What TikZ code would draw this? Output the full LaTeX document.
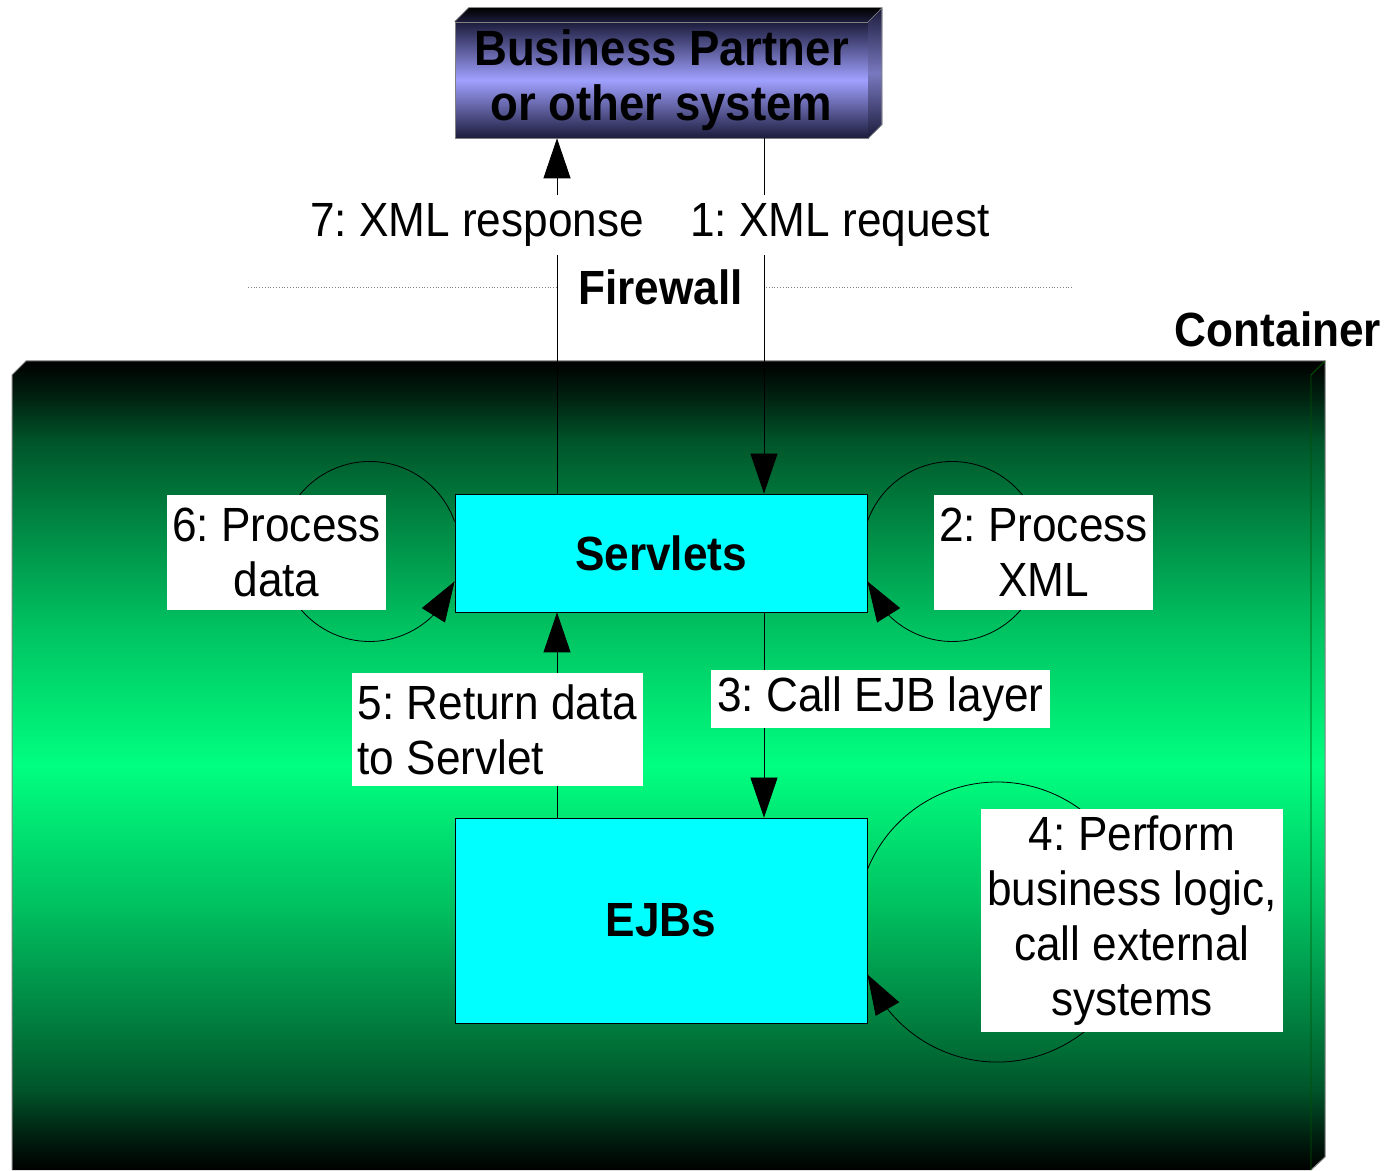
\documentclass[tikz,border=0pt]{standalone}
\usepackage{fontspec}
\setmainfont{Liberation Sans}[FakeStretch=0.92]
\usetikzlibrary{arrows.meta,bending,calc}
\definecolor{cgreen}{RGB}{0,255,128}
\definecolor{gA}{RGB}{0,30,15}
\definecolor{gB}{RGB}{0,85,42}
\definecolor{gC}{RGB}{0,125,62}
\definecolor{gD}{RGB}{0,190,95}
\definecolor{bpmid}{RGB}{160,160,255}
\definecolor{bpdark}{RGB}{28,28,60}
\definecolor{boxcyan}{RGB}{0,255,255}
\pgfdeclareverticalshading{contshade}{100bp}{color(0bp)=(black); color(25bp)=(black);
  color(27bp)=(gA); color(30bp)=(gB); color(34bp)=(gC); color(41bp)=(gD); color(50bp)=(cgreen);
  color(59bp)=(gD); color(66bp)=(gC); color(70bp)=(gB); color(73bp)=(gA); color(75bp)=(black); color(100bp)=(black)}
\newcommand\fs{\fontsize{48}{55}\selectfont}
\newcommand\bfs{\fontsize{48}{55}\selectfont\bfseries}
\newcommand\bpfs{\fontsize{49.5}{55}\selectfont\bfseries}
\tikzset{
  arr/.style={-{Triangle[length=40pt,width=27pt]}, line width=0.8pt},
  lbl/.style={fill=white, inner sep=0pt, font=\fs, align=center},
  cbox/.style={draw=black, line width=0.8pt, fill=boxcyan, font=\bfs, inner sep=0pt, minimum width=412pt},
}
\frenchspacing
\begin{document}
\begin{tikzpicture}[x=1pt,y=1pt]
\useasboundingbox (0,0) rectangle (1384,1170);
% container
\shade[shading=contshade]
  (12,795) -- (26,809) -- (1325,809) -- (1325,13) -- (1311,0) -- (12,0) -- cycle;
\draw[gray, line width=1pt] (12,0) -- (12,795) -- (26,809) -- (1325,809) -- (1325,13) -- (1311,0);
\draw[black!60!green!80!black, line width=0.8pt] (1311,0) -- (1311,795) -- (1325,809);
\node[font=\bfs, anchor=center] (cont) at (1278,841) {Container};
% business partner box
\node[draw=gray, line width=0.6pt, top color=bpdark, bottom color=bpdark, middle color=bpmid,
      minimum width=413pt, minimum height=116pt, inner sep=0pt, font=\bpfs, align=center]
      (bp) at (661.5,1090) {Business Partner\\or other system};
\shade[top color=black, bottom color=bpdark] (bp.north west) -- ++(14,14) -- ++(413,0) -- (bp.north east) -- cycle;
\shade[top color=bpdark, bottom color=bpdark, middle color=bpmid!75!black] (bp.north east) -- ++(14,14) -- ++(0,-117) -- (bp.south east) -- cycle;
\draw[gray, line width=0.6pt] (bp.north west) -- ++(14,14) -- ++(413,0) -- ++(0,-117) -- (bp.south east);
\draw[gray, line width=0.6pt] (bp.north east) -- ++(14,14);
% firewall
\draw[gray, dotted, line width=0.8pt] (248,883) -- (1073,883);
\node[fill=white, inner sep=0pt, minimum width=206pt, minimum height=50pt, font=\bfs] (fw) at (660.5,883) {Firewall};
% boxes
\node[cbox, minimum height=118pt] (srv) at (661,617) {Servlets};
\node[cbox, minimum height=205pt] (ejb) at (661,249.5) {EJBs};
\coordinate (xl) at (557,0);
\coordinate (xr) at (764,0);
% main connectors
\draw[arr] (bp.south -| xr) -- (srv.north -| xr);
\draw[arr] (srv.north -| xl) -- (bp.south -| xl);
\draw[arr] (srv.south -| xr) -- (ejb.north -| xr);
\draw[arr] (ejb.north -| xl) -- (srv.south -| xl);
% loops
\draw[arr] ($(srv.north west)+(0,-28)$) arc[start angle=19.4, end angle=340.6, radius=90];
\draw[arr] ($(srv.north east)+(0,-28)$) arc[start angle=160.6, end angle=-160.6, radius=90];
\draw[arr] ($(ejb.north east)+(0,-52)$) arc[start angle=158, end angle=-158, radius=140];
% labels
\node[lbl, minimum height=60pt, inner xsep=3pt] (l7) at (477,945) {7: XML response};
\node[lbl, minimum height=60pt, inner xsep=3pt] (l1) at (840,945) {1: XML request};
\node[lbl, minimum width=219pt, minimum height=115pt] (l6) at (276.5,617.5) {6: Process\\data};
\node[lbl, minimum width=219pt, minimum height=115pt] (l2) at (1043.5,617.5) {2: Process\\XML};
\node[lbl, align=left, minimum width=291pt, minimum height=113pt] (l5) at (497.5,440.5) {5: Return data\\to Servlet};
\node[lbl, minimum width=339pt, minimum height=58pt] (l3) at (880.5,471) {3: Call EJB layer};
\node[lbl, minimum width=302pt, minimum height=223pt] (l4) at (1132,249.5) {4: Perform\\business logic,\\call external\\systems};
\end{tikzpicture}
\end{document}
